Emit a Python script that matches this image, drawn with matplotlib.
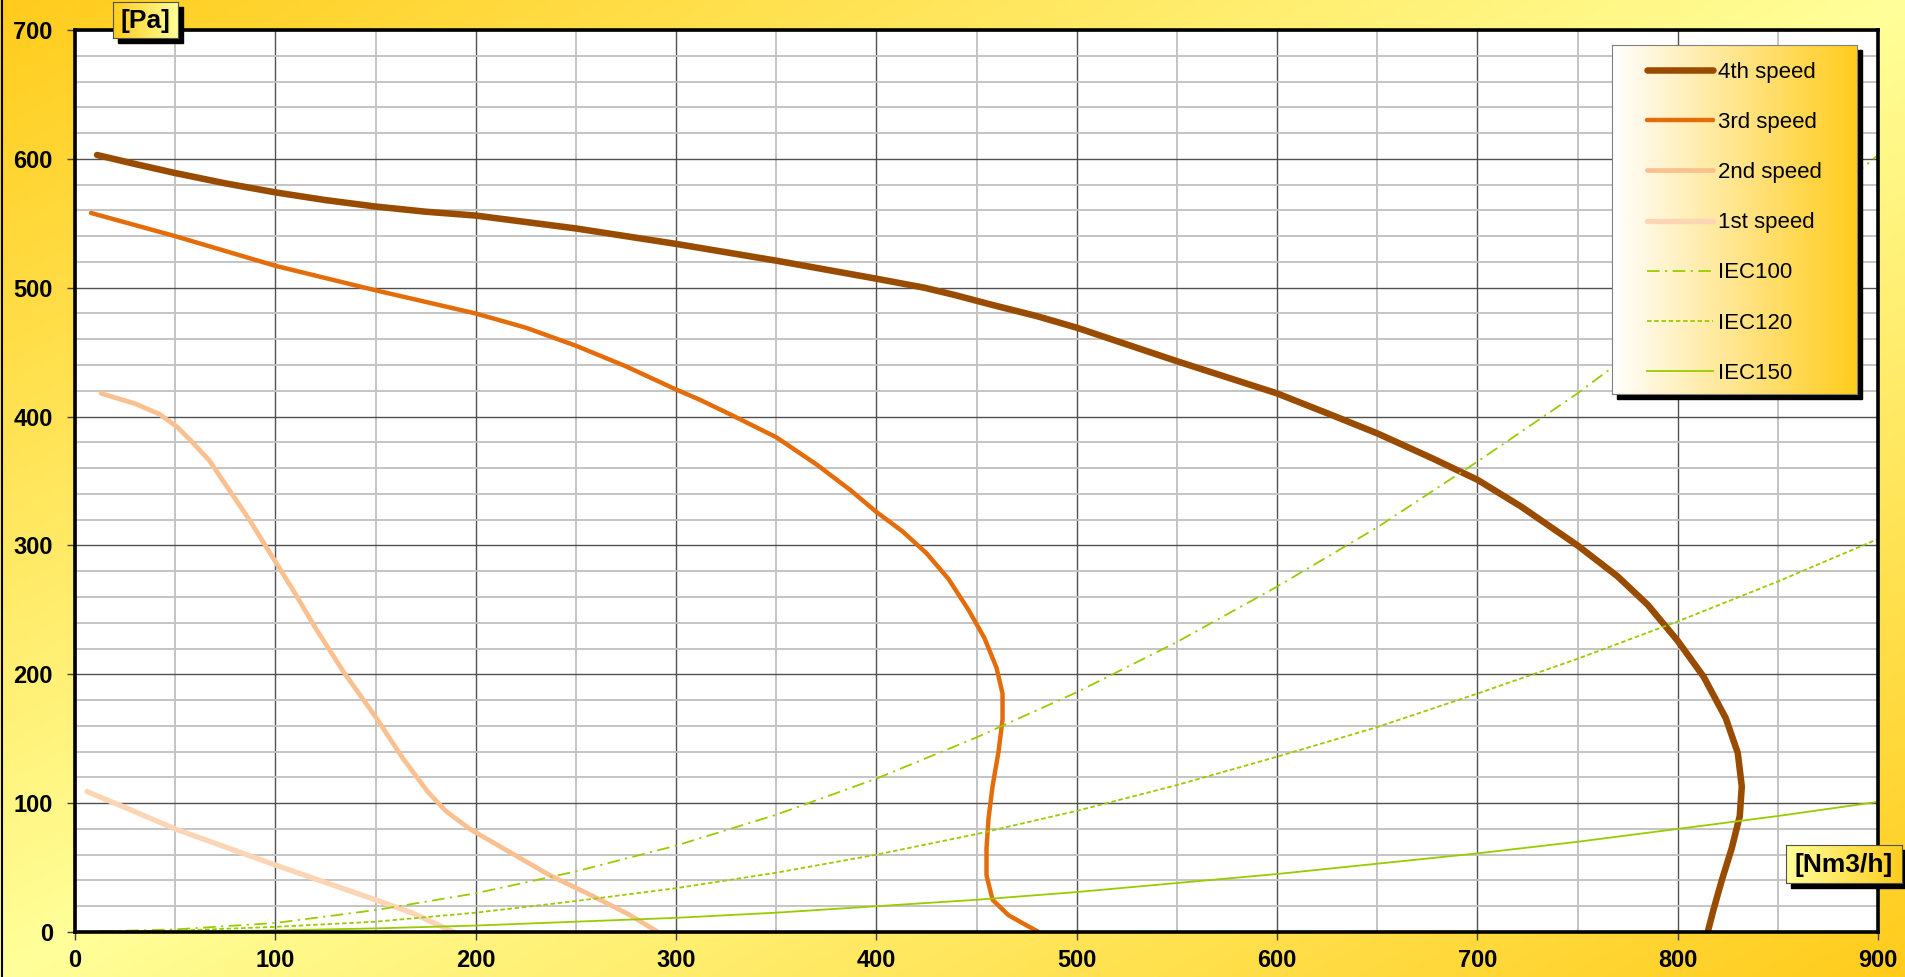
import numpy as np
import matplotlib
matplotlib.use("Agg")
import matplotlib.pyplot as plt
from matplotlib.patches import Rectangle
from matplotlib.lines import Line2D

# Fan curves: airflow [Nm3/h] vs pressure [Pa]
speed4_x = [11, 30, 50, 75, 100, 125, 150, 175, 200, 225, 250, 275, 300, 350, 400,
            424, 440, 457, 480, 500, 550, 600, 626, 650, 677, 700, 722, 750, 770,
            785, 800, 813, 824, 830, 832, 831, 827, 822, 818, 815]
speed4_y = [603, 596, 589, 581, 574, 568, 563, 559, 556, 551, 546, 540, 534, 521, 507,
            500, 494, 487, 478, 469, 443, 418, 402, 387, 368, 351, 330, 300, 276,
            254, 226, 198, 166, 139, 113, 90, 65, 40, 18, 0]

speed3_x = [8, 50, 100, 150, 200, 225, 250, 275, 300, 312, 328, 350, 370, 387, 400,
            413, 425, 436, 446, 454, 460, 463, 463, 461, 458, 456, 455, 455, 458,
            466, 474, 481]
speed3_y = [558, 540, 517, 498, 480, 469, 455, 439, 421, 413, 401, 384, 363, 343, 326,
            311, 294, 274, 250, 228, 205, 185, 165, 140, 113, 88, 65, 44, 25, 13,
            6, 0]

speed2_x = [13, 30, 42, 51, 58, 67, 77, 87, 97, 109, 120, 134, 150, 164, 176, 185,
            197, 217, 237, 257, 276, 291]
speed2_y = [418, 410, 402, 392, 381, 366, 343, 320, 295, 265, 236, 202, 167, 134, 109,
            94, 80, 62, 44, 29, 14, 0]

speed1_x = [6, 26, 50, 75, 100, 124, 150, 168, 189]
speed1_y = [109, 96, 80, 66, 52, 39, 25, 15, 0]

# System curves (IEC reference lines)
iec_x = [0, 50, 100, 150, 200, 250, 300, 350, 400, 450, 500, 550, 600, 650, 700,
         750, 800, 850, 900]
iec100_y = [0, 2, 7, 17, 30, 47, 67, 91, 119, 151, 186, 225, 268, 314, 365, 418,
            476, 537, 603]
iec120_y = [0, 1, 4, 8, 15, 24, 34, 46, 60, 76, 94, 114, 136, 159, 185, 212, 241,
            272, 305]
iec150_y = [0, 0.3, 1.2, 2.8, 5, 8, 11, 15, 20, 25, 31, 38, 45, 53, 61, 70, 80, 90, 101]

x_ticks = [0, 100, 200, 300, 400, 500, 600, 700, 800, 900]
y_ticks = [0, 100, 200, 300, 400, 500, 600, 700]

W, H = 1905, 977
GOLD = np.array([255, 204, 28]) / 255.0
PALE = np.array([255, 255, 153]) / 255.0
WHITE = np.array([255, 255, 255]) / 255.0


def px_rect(x0, y0, x1, y1):
    """Pixel box (top-left origin) -> figure fraction [left, bottom, w, h]."""
    return [x0 / W, 1 - y1 / H, (x1 - x0) / W, (y1 - y0) / H]


def gradient_h(c_left, c_right, n=256):
    t = np.linspace(0, 1, n)[None, :, None]
    return c_left[None, None, :] * (1 - t) + c_right[None, None, :] * t


def add_shadow(fig, x0, y0, x1, y1, off=5):
    fig.add_artist(Rectangle((x0 / W + off / W, 1 - y1 / H - off / H),
                             (x1 - x0) / W, (y1 - y0) / H,
                             transform=fig.transFigure, color="black", zorder=4))


def add_label_box(fig, text, x0, y0, x1, y1, c_left, c_right):
    add_shadow(fig, x0, y0, x1, y1)
    bax = fig.add_axes(px_rect(x0, y0, x1, y1), zorder=5)
    bax.imshow(gradient_h(c_left, c_right), aspect="auto", extent=[0, 1, 0, 1])
    bax.set_xticks([])
    bax.set_yticks([])
    for s in bax.spines.values():
        s.set_color("#505050")
        s.set_linewidth(0.8)
    bax.text(0.5, 0.47, text, ha="center", va="center", fontsize=19,
             fontweight="bold", transform=bax.transAxes)
    return bax


def main():
    plt.rcParams["font.family"] = ["Liberation Sans", "DejaVu Sans"]

    fig = plt.figure(figsize=(W / 100, H / 100), dpi=100)

    # Background: diagonal gradient, gold at two corners, pale along the other diagonal
    bg = fig.add_axes([0, 0, 1, 1], zorder=-10)
    u = np.linspace(0, 1, 400)[None, :]
    v = np.linspace(0, 1, 200)[:, None]
    t = 1 - np.abs(u + v - 1)
    img = GOLD[None, None, :] * (1 - t[..., None]) + PALE[None, None, :] * t[..., None]
    bg.imshow(img, aspect="auto", extent=[0, 1, 0, 1])
    bg.axis("off")
    fig.add_artist(Line2D([0.001, 0.001], [0, 1], transform=fig.transFigure,
                          color="black", lw=1.5, zorder=6))

    ax = fig.add_axes(px_rect(75, 30, 1878, 932), zorder=0)
    ax.set_facecolor("white")

    style = dict(solid_capstyle="round", solid_joinstyle="round")
    ax.plot(speed4_x, speed4_y, color="#994C00", lw=4.7, label="4th speed", **style)
    ax.plot(speed3_x, speed3_y, color="#E46C0A", lw=3.2, label="3rd speed", **style)
    ax.plot(speed2_x, speed2_y, color="#FAC090", lw=3.4, label="2nd speed", **style)
    ax.plot(speed1_x, speed1_y, color="#FCD5B5", lw=3.8, label="1st speed", **style)
    ax.plot(iec_x, iec100_y, color="#99CC00", lw=1.3, ls=(0, (7, 3, 1.2, 3)),
            label="IEC100")
    ax.plot(iec_x, iec120_y, color="#99CC00", lw=1.3, ls=(0, (2.5, 1.5)),
            label="IEC120")
    ax.plot(iec_x, iec150_y, color="#99CC00", lw=1.3, label="IEC150")

    ax.set_xlim(0, 900)
    ax.set_ylim(0, 700)
    ax.set_xticks(x_ticks)
    ax.set_yticks(y_ticks)
    ax.set_xticks(np.arange(50, 900, 100), minor=True)
    ax.set_yticks([v for v in range(20, 700, 20) if v % 100], minor=True)
    ax.grid(which="minor", color="#c4c4c4", lw=1.4, zorder=0)
    ax.grid(which="major", color="#505050", lw=1.0, zorder=0)
    ax.set_axisbelow(True)

    ax.tick_params(which="major", direction="out", length=6, width=1,
                   color="#404040", labelsize=17)
    ax.tick_params(axis="x", pad=6.5)
    ax.tick_params(axis="y", pad=10)
    ax.tick_params(which="minor", length=0)
    for lab in ax.get_xticklabels() + ax.get_yticklabels():
        lab.set_fontweight("bold")
    for s in ax.spines.values():
        s.set_linewidth(2.6)
        s.set_color("black")

    # Axis unit boxes
    add_label_box(fig, "[Pa]", 113, 2, 178, 38, GOLD, PALE)
    add_label_box(fig, "[Nm3/h]", 1786, 845, 1902, 883, PALE, GOLD)

    # Legend on its own gradient panel
    lx0, ly0, lx1, ly1 = 1612, 45, 1857, 394
    add_shadow(fig, lx0, ly0, lx1, ly1)
    lax = fig.add_axes(px_rect(lx0, ly0, lx1, ly1), zorder=5)
    lax.imshow(gradient_h(WHITE, GOLD), aspect="auto", extent=[0, 1, 0, 1])
    lax.set_xticks([])
    lax.set_yticks([])
    for s in lax.spines.values():
        s.set_color("#808080")
        s.set_linewidth(0.8)
    handles, labels = ax.get_legend_handles_labels()
    lax.legend(handles, labels, loc="upper left",
               bbox_to_anchor=((1647 - lx0) / (lx1 - lx0), 1 - 17 / (ly1 - ly0)),
               frameon=False, fontsize=16, borderpad=0, borderaxespad=0,
               handlelength=2.95, handletextpad=0.25, labelspacing=1.31)

    fig.savefig("out.png", dpi=100)


if __name__ == "__main__":
    main()
